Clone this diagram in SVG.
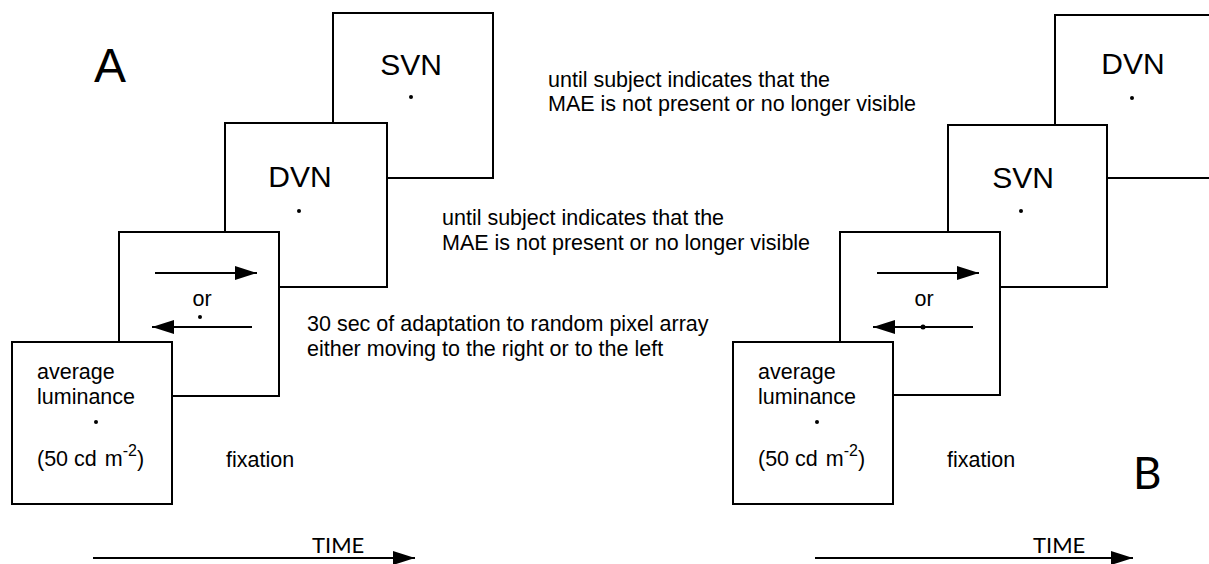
<svg xmlns="http://www.w3.org/2000/svg" width="1209" height="564" viewBox="0 0 1209 564">
<style>
.box{fill:#fff;stroke:#000;stroke-width:2}
.t{font-family:"Liberation Sans",Arial,sans-serif;font-size:21.5px;fill:#000}
.big{font-family:"Liberation Sans",Arial,sans-serif;font-size:30px;fill:#000}
.gill{font-family:Lato,"Liberation Sans",sans-serif;fill:#000}
.ln{stroke:#000;stroke-width:2;fill:none}
.dot{fill:#000}
</style>
<defs>
<marker id="ah" viewBox="0 0 22 14" refX="22" refY="7" markerWidth="22" markerHeight="14" markerUnits="userSpaceOnUse" orient="auto">
<path d="M0,0 L22,7 L0,14 z" fill="#000"/>
</marker>
</defs>
<rect width="1209" height="564" fill="#fff"/>

<text class="t" x="94" y="82" style="font-size:48px">A</text>
<text class="gill" x="1133" y="489" style="font-size:44px">B</text>

<!-- Panel A -->
<g id="a-svn">
<rect class="box" x="333" y="13" width="160" height="165"/>
<text class="big" x="411" y="75" text-anchor="middle">SVN</text>
<circle class="dot" cx="411" cy="97" r="2"/>
</g>
<g id="a-dvn">
<rect class="box" x="225" y="123" width="162" height="164"/>
<text class="big" x="300" y="187" text-anchor="middle">DVN</text>
<circle class="dot" cx="299" cy="211" r="2"/>
</g>
<g id="a-adapt">
<rect class="box" x="119" y="232" width="160" height="164"/>
<text class="t" x="202" y="306" text-anchor="middle">or</text>
<circle class="dot" cx="200" cy="317" r="2"/>
</g>
<g id="a-fix">
<rect class="box" x="12" y="342" width="160" height="162"/>
<text class="t" x="37" y="379">average</text>
<text class="t" x="37" y="404">luminance</text>
<circle class="dot" cx="96" cy="422" r="2"/>
<text class="t" x="37" y="466">(50 cd<tspan dx="8">m</tspan><tspan dy="-10" style="font-size:16px">-2</tspan><tspan dy="10">)</tspan></text>
</g>

<!-- Panel B -->
<g id="b-dvn">
<rect class="box" x="1055" y="15" width="162" height="163"/>
<text class="big" x="1133" y="74" text-anchor="middle">DVN</text>
<circle class="dot" cx="1132" cy="98" r="2"/>
</g>
<g id="b-svn">
<rect class="box" x="948" y="125" width="159" height="162"/>
<text class="big" x="1023" y="188" text-anchor="middle">SVN</text>
<circle class="dot" cx="1021" cy="211" r="2"/>
</g>
<g id="b-adapt">
<rect class="box" x="840" y="232" width="160" height="163"/>
<text class="t" x="924" y="306" text-anchor="middle">or</text>
<circle class="dot" cx="923" cy="327" r="2.5"/>
</g>
<g id="b-fix">
<rect class="box" x="733" y="342" width="160" height="162"/>
<text class="t" x="758" y="379">average</text>
<text class="t" x="758" y="404">luminance</text>
<circle class="dot" cx="817" cy="422" r="2"/>
<text class="t" x="758" y="466">(50 cd<tspan dx="8">m</tspan><tspan dy="-10" style="font-size:16px">-2</tspan><tspan dy="10">)</tspan></text>
</g>

<g id="labels">
<text class="t" x="548" y="87">until subject indicates that the</text>
<text class="t" x="548" y="111">MAE is not present or no longer visible</text>
<text class="t" x="442" y="225">until subject indicates that the</text>
<text class="t" x="442" y="250">MAE is not present or no longer visible</text>
<text class="t" x="307" y="331">30 sec of adaptation to random pixel array</text>
<text class="t" x="307" y="356">either moving to the right or to the left</text>
<text class="t" x="226" y="467">fixation</text>
<text class="t" x="947" y="467">fixation</text>
<text class="gill" x="312" y="553" style="font-size:22px">TIME</text>
<text class="gill" x="1033" y="553" style="font-size:22px">TIME</text>
</g>

<g id="connectors">
<line class="ln" x1="155" y1="273" x2="257" y2="273" marker-end="url(#ah)"/>
<line class="ln" x1="252" y1="327" x2="152" y2="327" marker-end="url(#ah)"/>
<line class="ln" x1="877" y1="273" x2="979" y2="273" marker-end="url(#ah)"/>
<line class="ln" x1="973" y1="327" x2="873" y2="327" marker-end="url(#ah)"/>
<line class="ln" x1="93" y1="558" x2="415" y2="558" marker-end="url(#ah)"/>
<line class="ln" x1="815" y1="558" x2="1133" y2="558" marker-end="url(#ah)"/>
</g>
</svg>
